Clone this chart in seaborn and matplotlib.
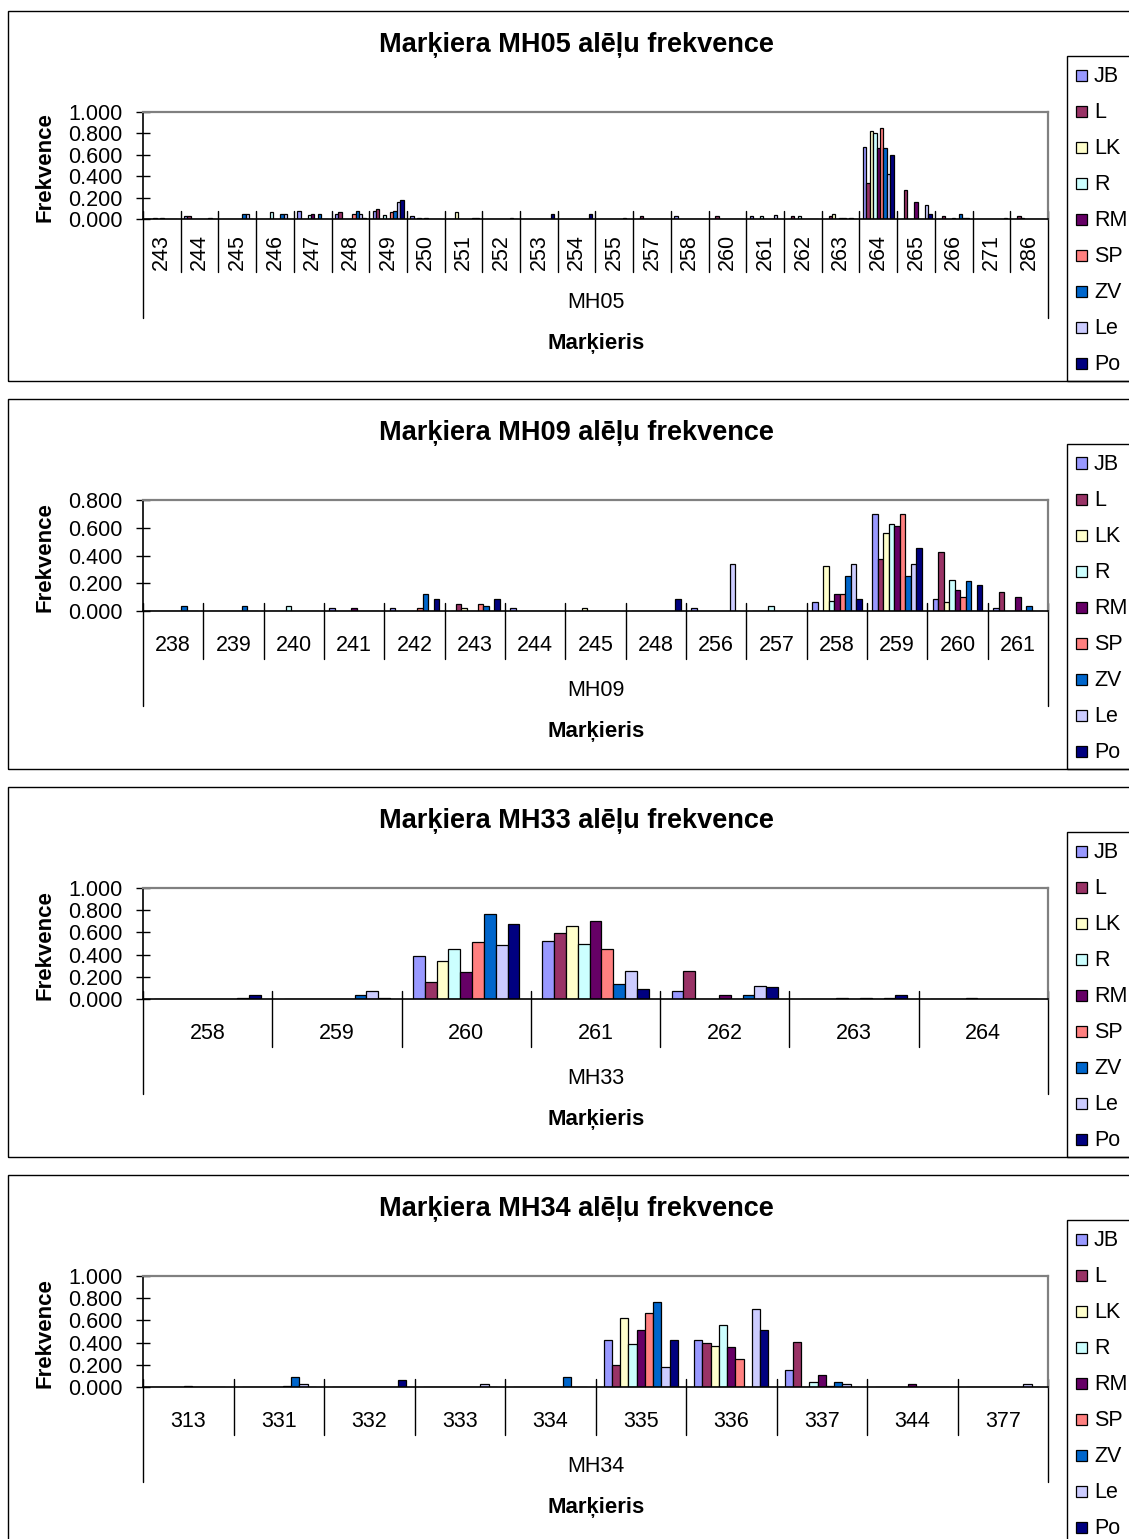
import numpy as np
import pandas as pd
import matplotlib
matplotlib.use("Agg")
import matplotlib.pyplot as plt
import seaborn as sns
from matplotlib.patches import Rectangle
from matplotlib.lines import Line2D
from matplotlib.transforms import blended_transform_factory
from matplotlib.ticker import FormatStrFormatter

# ---------------- data ----------------
pops = ["JB", "L", "LK", "R", "RM", "SP", "ZV", "Le", "Po"]
pop_colors = ["#9999FF", "#993366", "#FFFFCC", "#CCFFFF", "#660066",
              "#FF8080", "#0066CC", "#CCCCFF", "#000080"]

# MH05
mh05_alleles = ["243", "244", "245", "246", "247", "248", "249", "250", "251", "252", "253", "254",
                "255", "257", "258", "260", "261", "262", "263", "264", "265", "266", "271", "286"]
mh05_JB = [0, .03, 0, 0, .078, .05, .078, .03, 0, 0, 0, 0, 0, 0, .03, 0, .03, 0, 0, .673, 0, 0, 0, 0]
mh05_L = [0, .03, 0, 0, 0, .065, .097, 0, 0, 0, 0, 0, 0, .03, 0, .03, 0, .03, .03, .333, .27, .03, 0, .03]
mh05_LK = [.01, 0, 0, 0, 0, 0, 0, .01, .065, 0, 0, 0, 0, 0, 0, 0, 0, 0, .05, .82, 0, 0, 0, .01]
mh05_R = [0, 0, 0, .065, .035, 0, .035, 0, 0, 0, 0, 0, 0, 0, 0, 0, .03, .03, 0, .80, 0, 0, 0, 0]
mh05_RM = [.01, 0, 0, 0, .05, 0, 0, .01, 0, 0, 0, 0, 0, 0, 0, 0, 0, 0, .01, .66, .16, .01, 0, 0]
mh05_SP = [0, 0, 0, 0, 0, .05, .065, 0, 0, 0, 0, 0, 0, 0, 0, 0, 0, 0, .01, .85, 0, 0, 0, 0]
mh05_ZV = [0, 0, .05, .05, .05, .078, .078, 0, 0, 0, 0, 0, 0, 0, 0, 0, 0, 0, 0, .66, 0, .047, 0, 0]
mh05_Le = [0, .01, .05, .05, 0, .05, .16, 0, .01, .01, 0, 0, .01, 0, 0, 0, .04, 0, .01, .42, .128, .01, 0, 0]
mh05_Po = [0, 0, 0, 0, 0, .01, .175, 0, .01, 0, .05, .05, 0, 0, 0, 0, 0, 0, 0, .595, .047, .01, .01, 0]

# MH09
mh09_alleles = ["238", "239", "240", "241", "242", "243", "244", "245", "248", "256", "257",
                "258", "259", "260", "261"]
mh09_JB = [0, 0, 0, .024, .024, 0, .024, 0, 0, .024, 0, .063, .70, .087, .024]
mh09_L = [0, 0, 0, 0, 0, .053, 0, 0, 0, 0, 0, 0, .375, .425, .14]
mh09_LK = [0, 0, 0, 0, 0, .024, 0, .024, 0, 0, 0, .326, .563, .063, 0]
mh09_R = [0, 0, .039, 0, 0, 0, 0, 0, 0, 0, .039, .073, .628, .225, 0]
mh09_RM = [0, 0, 0, .024, 0, 0, 0, 0, 0, 0, 0, .126, .616, .15, .10]
mh09_SP = [0, 0, 0, 0, .024, .053, 0, 0, 0, 0, 0, .126, .70, .099, 0]
mh09_ZV = [.039, .039, 0, 0, .126, .039, 0, 0, 0, 0, 0, .25, .254, .213, .039]
mh09_Le = [0, 0, 0, 0, 0, 0, 0, 0, 0, .338, 0, .338, .338, 0, 0]
mh09_Po = [0, 0, 0, 0, .089, .089, 0, 0, .087, 0, 0, .087, .452, .19, 0]

# MH33
mh33_alleles = ["258", "259", "260", "261", "262", "263", "264"]
mh33_JB = [0, 0, .384, .527, .076, 0, 0]
mh33_L = [0, 0, .152, .595, .25, 0, 0]
mh33_LK = [0, 0, .341, .655, 0, 0, 0]
mh33_R = [0, 0, .448, .497, 0, .01, .01]
mh33_RM = [0, 0, .244, .70, .04, 0, 0]
mh33_SP = [0, 0, .512, .45, 0, .01, 0]
mh33_ZV = [0, .04, .765, .137, .04, 0, 0]
mh33_Le = [.01, .073, .482, .25, .12, .01, 0]
mh33_Po = [.04, .012, .674, .09, .104, .04, 0]

# MH34
mh34_alleles = ["313", "331", "332", "333", "334", "335", "336", "337", "344", "377"]
mh34_JB = [0, 0, 0, 0, 0, .42, .42, .157, 0, 0]
mh34_L = [0, 0, 0, 0, 0, .20, .40, .405, 0, 0]
mh34_LK = [0, 0, 0, 0, 0, .62, .37, 0, 0, 0]
mh34_R = [0, 0, 0, 0, 0, .387, .56, .045, 0, 0]
mh34_RM = [.01, 0, 0, 0, 0, .51, .356, .109, .03, 0]
mh34_SP = [0, .01, 0, 0, 0, .67, .25, .005, 0, 0]
mh34_ZV = [0, .088, 0, 0, .09, .764, 0, .045, 0, 0]
mh34_Le = [0, .027, 0, .027, 0, .184, .70, .03, 0, .03]
mh34_Po = [0, 0, .064, 0, 0, .42, .51, 0, 0, 0]

panels = [
    ("MH05", mh05_alleles, [mh05_JB, mh05_L, mh05_LK, mh05_R, mh05_RM, mh05_SP, mh05_ZV, mh05_Le, mh05_Po], 1.0),
    ("MH09", mh09_alleles, [mh09_JB, mh09_L, mh09_LK, mh09_R, mh09_RM, mh09_SP, mh09_ZV, mh09_Le, mh09_Po], 0.8),
    ("MH33", mh33_alleles, [mh33_JB, mh33_L, mh33_LK, mh33_R, mh33_RM, mh33_SP, mh33_ZV, mh33_Le, mh33_Po], 1.0),
    ("MH34", mh34_alleles, [mh34_JB, mh34_L, mh34_LK, mh34_R, mh34_RM, mh34_SP, mh34_ZV, mh34_Le, mh34_Po], 1.0),
]

# ---------------- style ----------------
sns.set_theme(style="white")
plt.rcParams["font.family"] = ["Liberation Sans", "DejaVu Sans"]
plt.rcParams["text.color"] = "black"
plt.rcParams["axes.labelcolor"] = "black"
plt.rcParams["xtick.color"] = "black"
plt.rcParams["ytick.color"] = "black"

W, H = 1129, 1539
fig = plt.figure(figsize=(W / 100, H / 100), dpi=100)
fig.patch.set_facecolor("white")


def fx(x):
    return x / W


def fy(y):
    return 1 - y / H


FS = 15.5
tops = [11, 399, 787, 1175]

for k, (marker, alleles, series, ymax) in enumerate(panels):
    top = tops[k]
    n = len(alleles)
    rotated = (k == 0)

    # chart area frame
    fig.add_artist(Rectangle((fx(8), fy(top + 370)), fx(1160) - fx(8), 370 / H,
                             transform=fig.transFigure, fill=False,
                             edgecolor="black", linewidth=1.0))

    # title
    fig.text(fx(576), fy(top + 34), f"Marķiera {marker} alēļu frekvence",
             ha="center", va="center", fontsize=19.5, fontweight="bold")

    # plot area
    p_top = top + 101
    p_bot = top + (208 if rotated else 212)
    ph = p_bot - p_top
    ax = fig.add_axes([fx(143), fy(p_bot), 905 / W, ph / H])

    df = pd.DataFrame({
        "allele": [a for s in series for a in alleles],
        "pop": [p for p, s in zip(pops, series) for _ in s],
        "freq": [v for s in series for v in s],
    })
    sns.barplot(data=df, x="allele", y="freq", hue="pop", order=alleles,
                hue_order=pops, palette=pop_colors, width=0.823,
                edgecolor="black", linewidth=0.9, errorbar=None,
                saturation=1, legend=False, ax=ax)

    ax.set_xlim(-0.5, n - 0.5)
    ax.set_ylim(0, ymax)
    ax.set_yticks(np.arange(0, ymax + 0.001, 0.2))
    ax.yaxis.set_major_formatter(FormatStrFormatter("%.3f"))
    ax.set_xlabel("")
    ax.set_ylabel("")
    ax.set_facecolor("white")
    for side in ["left", "bottom"]:
        ax.spines[side].set_color("black")
        ax.spines[side].set_linewidth(1.2)
    for side in ["top", "right"]:
        ax.spines[side].set_color("#808080")
        ax.spines[side].set_linewidth(1.6)

    ax.tick_params(axis="y", direction="inout", length=10, width=1.0,
                   color="black", labelsize=FS, pad=10, left=True,
                   labelcolor="black")
    ax.tick_params(axis="x", length=0, labelsize=FS, labelcolor="black",
                   pad=(11 if rotated else 17), bottom=True)
    if rotated:
        ax.tick_params(axis="x", labelrotation=90)

    # category separators (multi-level axis)
    tr = blended_transform_factory(ax.transData, ax.transAxes)
    inner = (53 if rotated else 48) / ph
    outer = (99 if rotated else 95) / ph
    up = 8 / ph
    for b in np.arange(n + 1) - 0.5:
        low = outer if (b == -0.5 or b == n - 0.5) else inner
        ax.add_line(Line2D([b, b], [up, -low], transform=tr, color="black",
                           linewidth=1.0, clip_on=False))

    # group label and axis title
    fig.text(fx(596), fy(top + 292), marker, ha="center", va="center", fontsize=FS)
    fig.text(fx(596), fy(top + 332), "Marķieris", ha="center", va="center",
             fontsize=16, fontweight="bold")
    fig.text(fx(45), fy((p_top + p_bot) / 2 + 2), "Frekvence", ha="center",
             va="center", rotation=90, fontsize=16, fontweight="bold")

    # legend
    fig.add_artist(Rectangle((fx(1067), fy(top + 370)), fx(1160) - fx(1067), 325 / H,
                             transform=fig.transFigure, fill=False,
                             edgecolor="black", linewidth=1.0))
    for j, (p, c) in enumerate(zip(pops, pop_colors)):
        yc = top + 64 + 36.1 * j
        fig.add_artist(Rectangle((fx(1076), fy(yc + 5.5)), 11 / W, 11 / H,
                                 transform=fig.transFigure, facecolor=c,
                                 edgecolor="black", linewidth=0.9))
        fig.text(fx(1094), fy(yc + 1), p, ha="left", va="center", fontsize=FS)

fig.savefig("out.png", dpi=100, facecolor="white")
